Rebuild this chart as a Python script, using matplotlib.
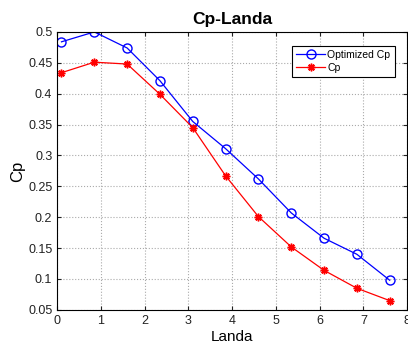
import matplotlib.pyplot as plt

landa = [0.1, 0.85, 1.6, 2.35, 3.1, 3.85, 4.6, 5.35, 6.1, 6.85, 7.6]
cp_opt = [0.484, 0.500, 0.474, 0.421, 0.355, 0.311, 0.262, 0.207, 0.166, 0.140, 0.098]
cp = [0.434, 0.451, 0.448, 0.399, 0.345, 0.267, 0.201, 0.152, 0.114, 0.085, 0.065]

xticks = [0, 1, 2, 3, 4, 5, 6, 7, 8]
yticks = [0.05, 0.1, 0.15, 0.2, 0.25, 0.3, 0.35, 0.4, 0.45, 0.5]

plt.rcParams['font.family'] = ['Liberation Sans', 'DejaVu Sans']

fig = plt.figure(figsize=(4.08, 3.47), dpi=100)
ax = fig.add_axes([0.140, 0.107, 0.858, 0.801])

ax.plot(landa, cp_opt, color='blue', marker='o', markersize=6.5, markerfacecolor='none',
        linewidth=0.9, label='Optimized Cp')
ax.plot(landa, cp, color='red', marker=(8, 2, 0), markersize=5.5, markeredgewidth=1.1,
        linewidth=0.9, label='Cp')

ax.set_xlim(0, 8)
ax.set_ylim(0.05, 0.5)
ax.set_xticks(xticks)
ax.set_xticklabels([str(t) for t in xticks])
ax.set_yticks(yticks)
ax.set_yticklabels(['0.05', '0.1', '0.15', '0.2', '0.25', '0.3', '0.35', '0.4', '0.45', '0.5'])
ax.tick_params(direction='in', labelsize=9, length=3, top=True, right=True, colors='#222222')
ax.grid(True, linestyle=':', color='#aaaaaa', linewidth=0.8)
for s in ax.spines.values():
    s.set_linewidth(0.8)

ax.set_title('Cp-Landa', fontsize=12.5, fontweight='bold')
ax.set_xlabel('Landa', fontsize=11, labelpad=2)
ax.set_ylabel('Cp', fontsize=12, labelpad=2)

leg = ax.legend(loc='upper right', bbox_to_anchor=(0.964, 0.95), fontsize=7.5,
                fancybox=False, edgecolor='black', framealpha=1,
                handlelength=2.8, handletextpad=0.2, borderpad=0.4, labelspacing=0.3,
                borderaxespad=0)
leg.get_frame().set_linewidth(0.8)

fig.savefig('out.png', dpi=100)
